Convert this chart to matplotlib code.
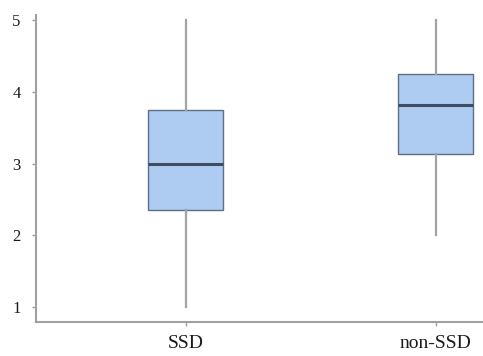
import matplotlib
matplotlib.use("Agg")
import matplotlib.pyplot as plt

# Summary statistics for each group
groups = ["SSD", "non-SSD"]
whisker_low = [1.0, 2.0]
q1 = [2.35, 3.13]
median = [3.0, 3.82]
q3 = [3.75, 4.25]
whisker_high = [5.0, 5.0]
y_ticks = [1, 2, 3, 4, 5]

plt.rcParams["font.family"] = ["Liberation Serif", "DejaVu Serif"]

stats = []
for i, name in enumerate(groups):
    stats.append({
        "label": name,
        "whislo": whisker_low[i],
        "q1": q1[i],
        "med": median[i],
        "q3": q3[i],
        "whishi": whisker_high[i],
        "fliers": [],
    })

fig = plt.figure(figsize=(4.83, 3.56), dpi=100)
ax = fig.add_axes([0.0745, 0.0955, 0.9255, 0.862])

ax.bxp(
    stats,
    positions=[0, 1],
    widths=0.30,
    patch_artist=True,
    showcaps=False,
    boxprops=dict(facecolor="#aecbf2", edgecolor="#5f6f86", linewidth=1.0),
    medianprops=dict(color="#3e4d63", linewidth=2.2),
    whiskerprops=dict(color="#a3a3a3", linewidth=1.6),
)

ax.set_xlim(-0.6, 1.19)
ax.set_ylim(0.79, 5.07)
ax.set_yticks(y_ticks)
ax.set_xticks([0, 1])
ax.set_xticklabels(groups)

for side in ["top", "right"]:
    ax.spines[side].set_visible(False)
for side in ["left", "bottom"]:
    ax.spines[side].set_color("#a0a0a0")
    ax.spines[side].set_linewidth(1.5)

ax.tick_params(axis="both", colors="#a0a0a0", length=3, width=1, labelcolor="#1a1a1a")
ax.tick_params(axis="x", labelsize=14, pad=6)
ax.tick_params(axis="y", labelsize=12, pad=8)

fig.savefig("out.png", dpi=100)
